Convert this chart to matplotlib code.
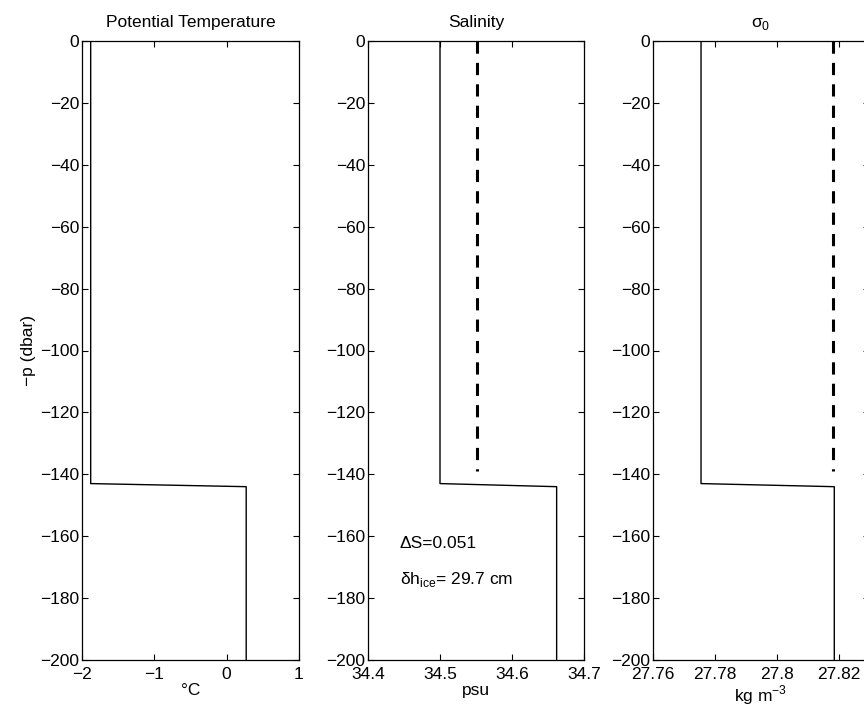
import numpy as np
import matplotlib
matplotlib.use("Agg")
import matplotlib.pyplot as plt

plt.rcParams["font.family"] = ["Liberation Sans", "DejaVu Sans"]
plt.rcParams["font.size"] = 12.5
plt.rcParams["axes.unicode_minus"] = True

# profile depths (dbar, negative downward)
p_prof = [0, -143, -144, -200]
theta = [-1.88, -1.88, 0.27, 0.27]
salt = [34.50, 34.50, 34.662, 34.662]
sigma = [27.7755, 27.7755, 27.8185, 27.8185]

# mixed-layer adjusted (dashed) profiles
p_dash = [0, -139]
salt_dash = [34.551, 34.551]
sigma_dash = [27.818, 27.818]

W, H = 864, 711
fig = plt.figure(figsize=(W / 100, H / 100), dpi=100)


def make_ax(x0, x1, title):
    y0, y1 = 41, 660
    ax = fig.add_axes([x0 / W, 1 - y1 / H, (x1 - x0) / W, (y1 - y0) / H])
    ax.set_ylim(-200, 0)
    ax.set_yticks(np.arange(-200, 1, 20))
    ax.tick_params(direction="in", top=True, right=True, length=4, width=0.8,
                   labelsize=12.5)
    ax.tick_params(axis="y", pad=2)
    ax.tick_params(axis="x", pad=5)
    for s in ax.spines.values():
        s.set_linewidth(0.9)
    ax.set_title(title, fontsize=12.5, pad=10)
    return ax


ax1 = make_ax(82, 299, "Potential Temperature")
ax1.plot(theta, p_prof, color="k", lw=1.0)
ax1.set_xlim(-2, 1)
ax1.set_xticks([-2, -1, 0, 1])
ax1.set_xlabel("°C", labelpad=1)
ax1.set_ylabel("−p (dbar)", labelpad=3)

ax2 = make_ax(368, 584, "Salinity")
ax2.plot(salt, p_prof, color="k", lw=1.0)
ax2.plot(salt_dash, p_dash, color="k", lw=2.2, ls=(0, (4, 3)))
ax2.set_xlim(34.4, 34.7)
ax2.set_xticks([34.4, 34.5, 34.6, 34.7])
ax2.set_xticklabels(["34.4", "34.5", "34.6", "34.7"])
ax2.set_xlabel("psu", labelpad=1)
ax2.text(34.4 + 32 / 216 * 0.3, -162.5, "ΔS=0.051", va="center")
ax2.text(34.4 + 32 / 216 * 0.3, -174, r"δh$_{\mathregular{ice}}$= 29.7 cm",
         va="center")

ax3 = make_ax(653, 869, r"σ$_{\mathregular{0}}$")
ax3.plot(sigma, p_prof, color="k", lw=1.0)
ax3.plot(sigma_dash, p_dash, color="k", lw=2.2, ls=(0, (4, 3)))
ax3.set_xlim(27.76, 27.8297)
ax3.set_xticks([27.76, 27.78, 27.80, 27.82])
ax3.set_xticklabels(["27.76", "27.78", "27.8", "27.82"])
ax3.set_xlabel(r"kg m$^{\mathregular{-3}}$", labelpad=1)

fig.savefig("out.png", dpi=100)
